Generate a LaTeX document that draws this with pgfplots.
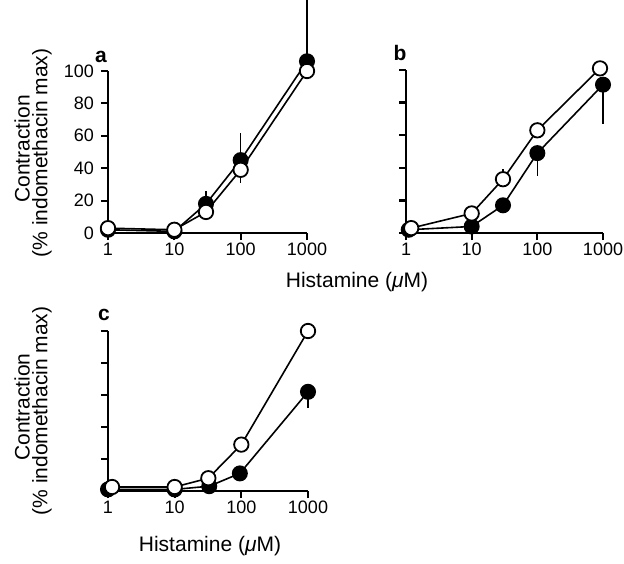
\documentclass[border=0pt]{standalone}
\usepackage{fontspec}
\setmainfont{Liberation Sans}
\usepackage{pgfplots}
\pgfplotsset{compat=1.18}

\pgfplotsset{
  histpanel/.style={
    scale only axis, enlargelimits=false, clip=false,
    axis lines=left, axis line style={-, line width=1.1pt},
    xmin=1, xmax=1000, ymin=0, ymax=100,
    xtick={1,10,100,1000}, xticklabels={1,10,100,1000}, xminorticks=false,
    ytick={0,20,40,60,80,100},
    tick align=outside, major tick length=3.5pt,
    tick style={line width=1.1pt, black},
    tick label style={font=\fontsize{9}{11}\selectfont},
    xticklabel style={yshift=2pt},
    /pgf/number format/assume math mode=true,
  },
  openser/.style={black, line width=0.8pt, mark=*, mark size=3.6pt,
    mark options={fill=white, line width=0.9pt}},
  fillser/.style={black, line width=0.8pt, mark=*, mark size=3.6pt,
    mark options={fill=black}},
  ebars/.style={/pgfplots/error bars/y dir=both, /pgfplots/error bars/y explicit,
    /pgfplots/error bars/error mark=none,
    /pgfplots/error bars/error bar style={line width=0.8pt}},
}
\newcommand{\lab}{\fontsize{10.5}{12}\selectfont}

\begin{document}
\begin{tikzpicture}
\useasboundingbox (0,0) rectangle (312pt,281.5pt);

% panel a
\begin{semilogxaxis}[histpanel, at={(54pt,165pt)}, anchor=south west, width=99.5pt, height=81pt]
\addplot+[fillser, ebars] coordinates {
  (1,2) (10,1) (30,18) += (0,8) -= (0,0) (100,45) += (0,17) -= (0,0) (1000,106) += (0,38) -= (0,0)
};
\addplot+[openser, ebars] coordinates {
  (1,3) (10,2) (30,13) (100,39) += (0,0) -= (0,8) (1000,100)
};
\end{semilogxaxis}

% panel b
\begin{semilogxaxis}[histpanel, yticklabels={}, at={(203pt,165pt)}, anchor=south west, width=98.5pt, height=81.5pt]
\addplot+[fillser, ebars] coordinates {
  (1.1,2) (10,4) (30,17) (100,49) += (0,0) -= (0,14) (1000,91) += (0,0) -= (0,24)
};
\addplot+[openser, ebars] coordinates {
  (1.2,3) (10,12) (30,33) += (0,6) -= (0,0) (100,63) (900,101)
};
\end{semilogxaxis}

% panel c
\begin{semilogxaxis}[histpanel, yticklabels={}, at={(54pt,36pt)}, anchor=south west, width=100pt, height=80pt]
\addplot+[fillser, ebars] coordinates {
  (1,1) (10,1) (33,3) (95,11) (1000,62) += (0,0) -= (0,10)
};
\addplot+[openser] coordinates {
  (1.15,2.5) (10,2.5) (32,8) (100,29) (1000,100)
};
\end{semilogxaxis}

% panel letters
\node[font=\lab\bfseries] at (50.5pt,253pt) {a};
\node[font=\lab\bfseries] at (200pt,255pt) {b};
\node[font=\lab\bfseries] at (52pt,124pt) {c};

% axis titles
\node[font=\lab, rotate=90] at (11pt,207pt) {Contraction};
\node[font=\lab, rotate=90] at (21pt,205pt) {(\% indomethacin max)};
\node[font=\lab, rotate=90] at (11pt,78pt) {Contraction};
\node[font=\lab, rotate=90] at (21pt,76pt) {(\% indomethacin max)};
\node[font=\lab] at (178.5pt,140.5pt) {Histamine (\textit{μ}M)};
\node[font=\lab] at (105pt,8.5pt) {Histamine (\textit{μ}M)};
\end{tikzpicture}
\end{document}
